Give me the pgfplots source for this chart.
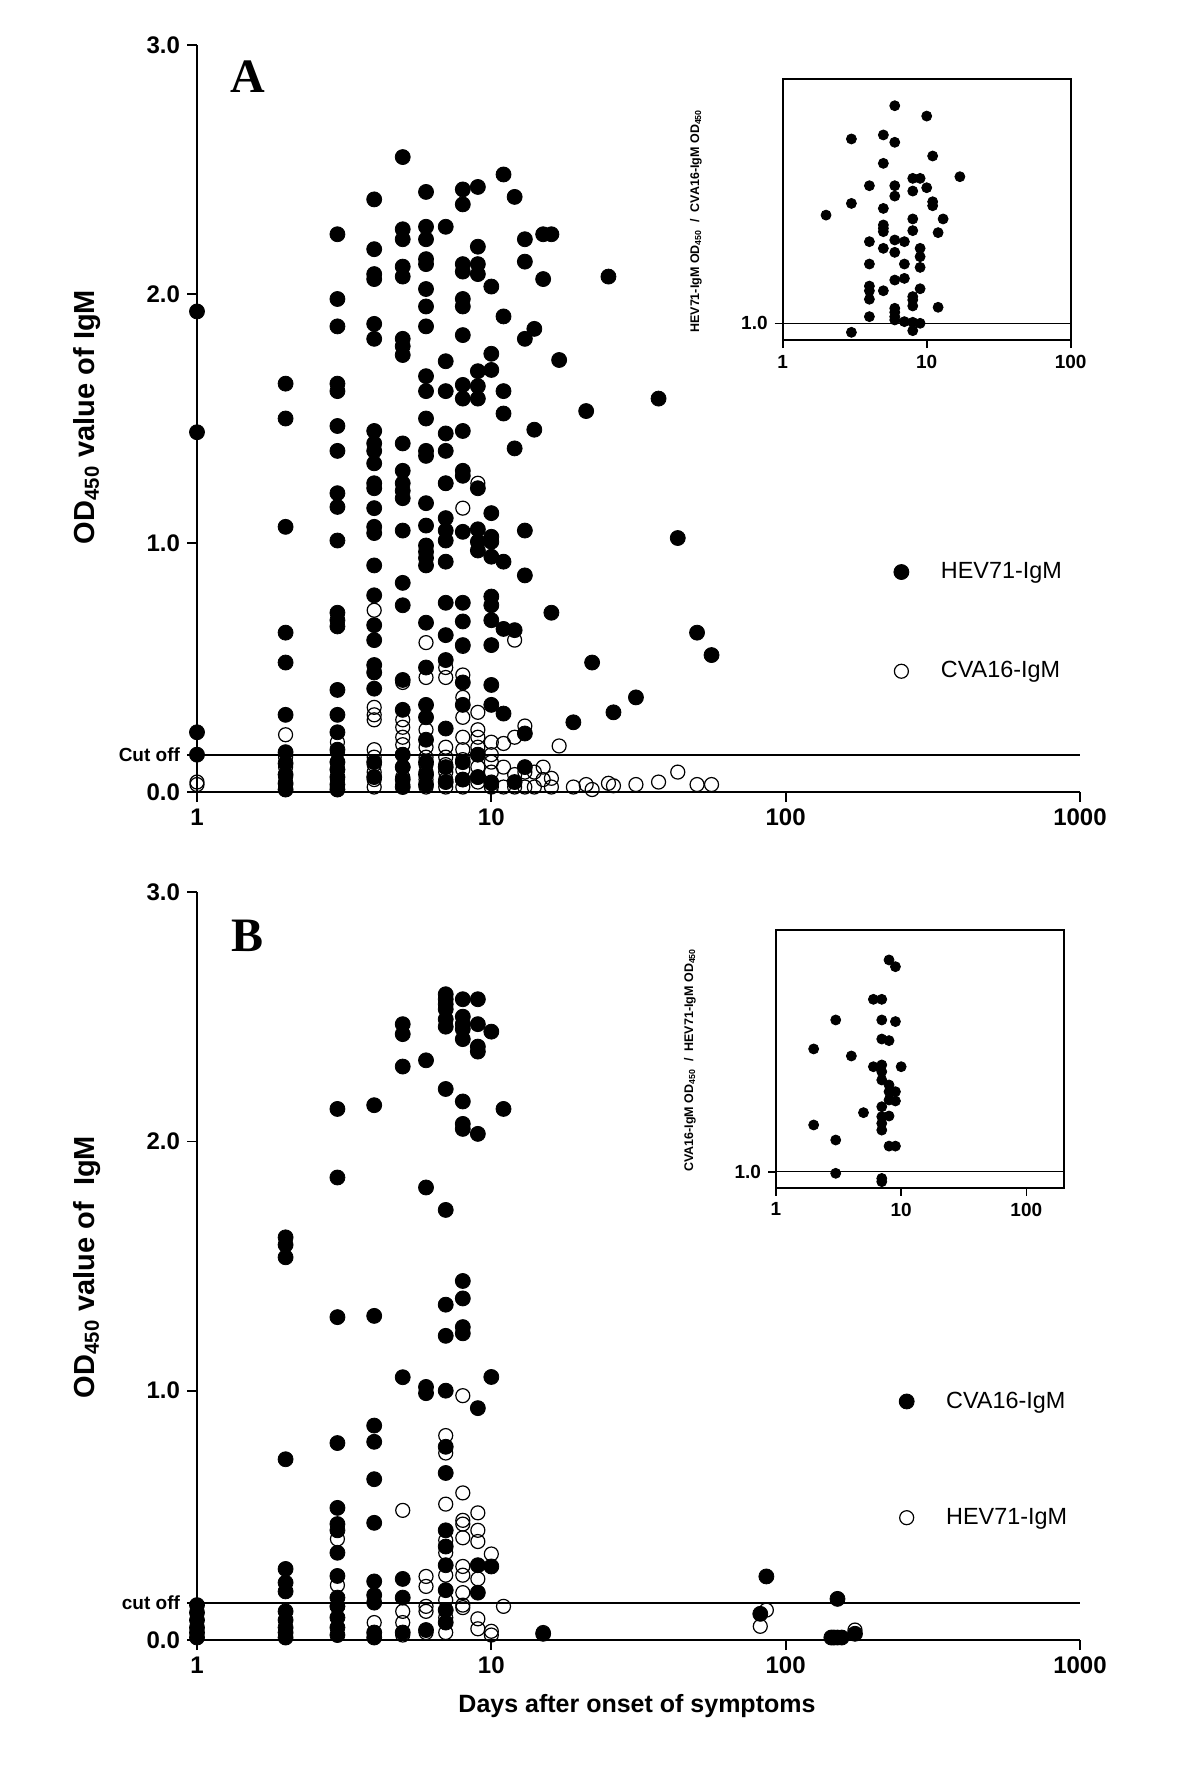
\documentclass[border=0pt]{standalone}
\usepackage{fontspec}
\setmainfont{Liberation Sans}
\newfontfamily\timesfont{Liberation Serif}
\usepackage{pgfplots}
\pgfplotsset{compat=1.18}
\pgfplotsset{
  fillm/.style={only marks, mark=*, mark size=3.75pt, black, mark options={fill=black}},
  openm/.style={only marks, mark=o, mark size=3.5pt, black, mark options={line width=0.6pt}},
  insm/.style={only marks, mark=*, mark size=2.5pt, black, mark options={fill=black}},
}
\begin{document}
\begin{tikzpicture}
\path (0,0) rectangle (600pt,-884.5pt);

% ---------------- Panel A ----------------
\begin{axis}[scale only axis, anchor=south west, at={(98.5pt,-396pt)},
    width=441.5pt, height=373.5pt,
    xmode=log, xmin=1, xmax=1000, ymin=0, ymax=3,
    axis x line*=bottom, axis y line*=left,
    axis line style={line width=0.85pt},
    tick style={line width=0.85pt, black},
    tick align=outside, major tick length=5pt,
    xminorticks=false, yminorticks=false,
    xtick={1,10,100,1000}, xticklabels={1,10,100,1000},
    ytick={0,1,2,3}, yticklabels={0.0,1.0,2.0,3.0},
    tick label style={font=\fontsize{12}{14}\selectfont\bfseries},
    extra y ticks={0.149}, extra y tick labels={Cut off},
    extra y tick style={tick label style={font=\fontsize{9.5}{11}\selectfont\bfseries}},
    clip=false,
    legend cell align=left,
    legend style={draw=none, fill=none, font=\fontsize{11.7}{13}\selectfont,
      at={(0.782,0.228)}, anchor=west, row sep=36pt,
      /tikz/every odd column/.append style={column sep=14pt}}]
\addplot[black, line width=0.8pt, forget plot] coordinates {(1,0.149) (1000,0.149)};
\addplot[fillm] coordinates {
(1,1.93)(1,1.445)(1,0.24)(1,0.15)
(2,1.64)(2,1.50)(2,1.065)(2,0.64)(2,0.52)(2,0.31)(2,0.16)(2,0.115)(2,0.07)(2,0.035)(2,0.01)
(3,2.24)(3,1.98)(3,1.87)(3,1.64)(3,1.61)(3,1.47)(3,1.37)(3,1.20)(3,1.145)(3,1.01)(3,0.72)(3,0.69)(3,0.665)(3,0.41)(3,0.31)(3,0.24)(3,0.17)(3,0.12)(3,0.09)(3,0.06)(3,0.03)(3,0.01)
(4,2.38)(4,2.18)(4,2.08)(4,2.06)(4,1.88)(4,1.82)(4,1.45)(4,1.40)(4,1.37)(4,1.32)(4,1.24)(4,1.22)(4,1.14)(4,1.065)(4,1.04)(4,0.91)(4,0.79)(4,0.67)(4,0.61)(4,0.51)(4,0.48)(4,0.415)(4,0.12)(4,0.06)
(5,2.55)(5,2.26)(5,2.22)(5,2.11)(5,2.07)(5,1.82)(5,1.79)(5,1.755)(5,1.40)(5,1.29)(5,1.24)(5,1.21)(5,1.18)(5,1.05)(5,0.84)(5,0.75)(5,0.45)(5,0.33)(5,0.15)(5,0.10)(5,0.05)(5,0.02)
(6,2.41)(6,2.27)(6,2.22)(6,2.14)(6,2.12)(6,2.02)(6,1.95)(6,1.87)(6,1.67)(6,1.61)(6,1.50)(6,1.37)(6,1.35)(6,1.16)(6,1.07)(6,0.99)(6,0.965)(6,0.94)(6,0.91)(6,0.68)(6,0.50)(6,0.35)(6,0.30)(6,0.21)(6,0.12)(6,0.07)(6,0.03)
(7,2.27)(7,1.73)(7,1.61)(7,1.44)(7,1.37)(7,1.24)(7,1.10)(7,1.05)(7,1.01)(7,0.925)(7,0.76)(7,0.63)(7,0.53)(7,0.255)(7,0.10)(7,0.04)
(8,2.42)(8,2.36)(8,2.12)(8,2.09)(8,1.98)(8,1.95)(8,1.835)(8,1.635)(8,1.58)(8,1.45)(8,1.29)(8,1.27)(8,1.045)(8,0.76)(8,0.685)(8,0.59)(8,0.44)(8,0.35)(8,0.12)(8,0.05)
(9,2.43)(9,2.19)(9,2.12)(9,2.08)(9,1.69)(9,1.63)(9,1.58)(9,1.22)(9,1.055)(9,1.005)(9,0.97)(9,0.15)(9,0.06)
(10,2.03)(10,1.76)(10,1.695)(10,1.12)(10,1.025)(10,1.005)(10,0.945)(10,0.785)(10,0.75)(10,0.69)(10,0.59)(10,0.43)(10,0.35)(10,0.035)
(11,2.48)(11,1.91)(11,1.61)(11,1.52)(11,0.925)(11,0.655)(11,0.315)
(12,2.39)(12,1.38)(12,0.65)(12,0.04)
(13,2.22)(13,2.13)(13,1.82)(13,1.05)(13,0.87)(13,0.235)(13,0.10)
(14,1.86)(14,1.455)
(15,2.24)(15,2.06)
(16,2.24)(16,0.72)
(17,1.735)
(19,0.28)(21,1.53)(22,0.52)(25,2.07)(26,0.32)(31,0.38)(37,1.58)(43,1.02)(50,0.64)(56,0.55)
};
\addlegendentry{HEV71-IgM}
\addplot[openm] coordinates {
(1,0.04)(1,0.03)
(2,0.23)(2,0.14)(2,0.10)(2,0.06)(2,0.03)(2,0.01)
(3,0.20)(3,0.16)(3,0.12)(3,0.09)(3,0.05)(3,0.02)(3,0.01)
(4,0.73)(4,0.34)(4,0.31)(4,0.29)(4,0.17)(4,0.14)(4,0.11)(4,0.08)(4,0.05)(4,0.02)
(5,0.44)(5,0.29)(5,0.26)(5,0.22)(5,0.19)(5,0.15)(5,0.10)(5,0.06)(5,0.03)
(6,0.60)(6,0.46)(6,0.25)(6,0.18)(6,0.14)(6,0.11)(6,0.08)(6,0.05)(6,0.02)
(7,1.24)(7,0.50)(7,0.46)(7,0.18)(7,0.14)(7,0.11)(7,0.08)(7,0.05)(7,0.02)
(8,1.14)(8,0.585)(8,0.47)(8,0.38)(8,0.30)(8,0.22)(8,0.17)(8,0.13)(8,0.09)(8,0.05)(8,0.02)
(9,1.24)(9,0.32)(9,0.25)(9,0.22)(9,0.18)(9,0.15)(9,0.10)(9,0.06)(9,0.04)
(10,0.20)(10,0.15)(10,0.12)(10,0.08)(10,0.04)(10,0.02)
(11,0.195)(11,0.10)(11,0.02)
(12,0.61)(12,0.22)(12,0.07)(12,0.02)
(13,0.265)(13,0.08)(13,0.02)
(14,0.08)(14,0.02)
(15,0.10)(15,0.05)
(16,0.055)(16,0.02)
(17,0.185)
(19,0.02)(21,0.03)(22,0.01)(25,0.035)(26,0.025)(31,0.03)(37,0.04)(43,0.08)(50,0.03)(56,0.03)
};
\addlegendentry{CVA16-IgM}
\end{axis}

% inset A
\begin{axis}[scale only axis, anchor=south west, at={(391.35pt,-170pt)},
    width=144pt, height=130.5pt,
    xmode=log, xmin=1, xmax=100, ymin=0.9, ymax=2.463,
    axis line style={line width=1pt},
    tick style={line width=0.8pt, black},
    tick align=outside, tick pos=left, major tick length=4pt,
    xminorticks=false, yminorticks=false,
    xtick={1,10,100}, xticklabels={1,10,100},
    ytick={1}, yticklabels={1.0},
    tick label style={font=\fontsize{9.5}{11}\selectfont\bfseries},
    clip=false]
\addplot[black, line width=0.4pt] coordinates {(1,1) (100,1)};
\addplot[insm] coordinates {
(2,1.648)
(3,2.104)(3,1.718)(3,0.946)
(4,1.824)(4,1.489)(4,1.355)(4,1.223)(4,1.195)(4,1.144)(4,1.040)
(5,2.128)(5,1.958)(5,1.688)(5,1.589)(5,1.569)(5,1.549)(5,1.449)(5,1.195)
(6,2.303)(6,2.084)(6,1.824)(6,1.762)(6,1.499)(6,1.425)(6,1.259)(6,1.090)(6,1.066)(6,1.040)(6,1.020)
(7,1.489)(7,1.355)(7,1.269)(7,1.010)
(8,1.868)(8,1.792)(8,1.625)(8,1.555)(8,1.160)(8,1.140)(8,1.104)(8,1.006)(8,0.956)
(9,1.868)(9,1.449)(9,1.399)(9,1.335)(9,1.207)(9,1.000)
(10,2.241)(10,1.812)
(11,2.002)(11,1.728)(11,1.704)
(12,1.543)(12,1.096)
(13,1.625)
(17,1.878)
};
\end{axis}

% ---------------- Panel B ----------------
\begin{axis}[scale only axis, anchor=south west, at={(98.5pt,-820pt)},
    width=441.5pt, height=374pt,
    xmode=log, xmin=1, xmax=1000, ymin=0, ymax=3,
    axis x line*=bottom, axis y line*=left,
    axis line style={line width=0.85pt},
    tick style={line width=0.85pt, black},
    tick align=outside, major tick length=5pt,
    xminorticks=false, yminorticks=false,
    xtick={1,10,100,1000}, xticklabels={1,10,100,1000},
    ytick={0,1,2,3}, yticklabels={0.0,1.0,2.0,3.0},
    tick label style={font=\fontsize{12}{14}\selectfont\bfseries},
    extra y ticks={0.149}, extra y tick labels={cut off},
    extra y tick style={tick label style={font=\fontsize{9.5}{11}\selectfont\bfseries}},
    clip=false,
    legend cell align=left,
    legend style={draw=none, fill=none, font=\fontsize{11.7}{13}\selectfont,
      at={(0.788,0.2413)}, anchor=west, row sep=44.5pt,
      /tikz/every odd column/.append style={column sep=14pt}}]
\addplot[black, line width=0.8pt, forget plot] coordinates {(1,0.149) (1000,0.149)};
\addplot[fillm] coordinates {
(1,0.14)(1,0.11)(1,0.08)(1,0.05)(1,0.03)(1,0.01)
(2,1.615)(2,1.585)(2,1.535)(2,0.725)(2,0.285)(2,0.23)(2,0.195)(2,0.115)(2,0.08)(2,0.05)(2,0.03)(2,0.01)
(3,2.13)(3,1.855)(3,1.295)(3,0.79)(3,0.53)(3,0.465)(3,0.44)(3,0.35)(3,0.257)(3,0.17)(3,0.135)(3,0.09)(3,0.05)(3,0.02)
(4,2.145)(4,1.30)(4,0.86)(4,0.795)(4,0.645)(4,0.47)(4,0.235)(4,0.18)(4,0.15)(4,0.03)(4,0.01)
(5,2.47)(5,2.43)(5,2.30)(5,1.054)(5,0.245)(5,0.17)(5,0.03)
(6,2.325)(6,1.815)(6,1.015)(6,0.99)(6,0.04)
(7,2.59)(7,2.57)(7,2.55)(7,2.53)(7,2.49)(7,2.46)(7,2.21)(7,1.725)(7,1.345)(7,1.22)(7,1.0)(7,0.775)(7,0.67)(7,0.44)(7,0.375)(7,0.30)(7,0.20)(7,0.12)(7,0.07)
(8,2.57)(8,2.50)(8,2.47)(8,2.45)(8,2.41)(8,2.16)(8,2.07)(8,2.05)(8,1.44)(8,1.37)(8,1.255)(8,1.23)
(9,2.57)(9,2.47)(9,2.38)(9,2.36)(9,2.03)(9,0.93)(9,0.30)(9,0.19)
(10,2.44)(10,1.055)(10,0.295)
(11,2.13)
(15,0.025)
(82,0.105)(86,0.255)
(143,0.01)(146,0.01)(150,0.01)(155,0.01)(150,0.165)(172,0.025)
};
\addlegendentry{CVA16-IgM}
\addplot[openm] coordinates {
(3,0.405)(3,0.22)(3,0.135)
(4,0.07)
(5,0.52)(5,0.115)(5,0.07)(5,0.02)
(6,0.255)(6,0.215)(6,0.135)(6,0.115)(6,0.03)
(7,0.82)(7,0.75)(7,0.545)(7,0.40)(7,0.35)(7,0.26)(7,0.16)(7,0.09)(7,0.03)
(8,0.98)(8,0.59)(8,0.48)(8,0.465)(8,0.41)(8,0.295)(8,0.26)(8,0.19)(8,0.14)(8,0.13)
(9,0.51)(9,0.44)(9,0.395)(9,0.245)(9,0.085)(9,0.045)
(10,0.345)(10,0.035)(10,0.02)
(11,0.135)
(15,0.03)
(82,0.055)(86,0.12)(172,0.04)
};
\addlegendentry{HEV71-IgM}
\end{axis}

% inset B
\begin{axis}[scale only axis, anchor=south west, at={(388pt,-593.85pt)},
    width=144pt, height=128.85pt,
    xmode=log, xmin=1, xmax=200, ymin=0.9, ymax=2.51,
    axis line style={line width=1pt},
    tick style={line width=0.8pt, black},
    tick align=outside, tick pos=left, major tick length=4pt,
    xminorticks=false, yminorticks=false,
    xtick={1,10,100}, xticklabels={1,10,100},
    ytick={1}, yticklabels={1.0},
    tick label style={font=\fontsize{9.5}{11}\selectfont\bfseries},
    clip=false]
\addplot[black, line width=0.4pt] coordinates {(1,1) (200,1)};
\addplot[insm] coordinates {
(2,1.767)(2,1.292)
(3,1.948)(3,1.198)(3,0.990)
(4,1.723)
(5,1.369)
(6,2.077)(6,1.656)
(7,2.077)(7,1.948)(7,1.829)(7,1.667)(7,1.625)(7,1.573)(7,1.406)(7,1.344)(7,1.302)(7,1.260)(7,0.958)(7,0.938)
(8,2.323)(8,1.819)(8,1.542)(8,1.500)(8,1.448)(8,1.348)(8,1.160)
(9,2.281)(9,1.938)(9,1.500)(9,1.442)(9,1.160)
(10,1.656)
};
\end{axis}

% labels
\node[font=\timesfont\fontsize{24}{26}\selectfont\bfseries] at (124pt,-38.5pt) {A};
\node[font=\timesfont\fontsize{24}{26}\selectfont\bfseries] at (124pt,-468pt) {B};
\node[rotate=90, font=\fontsize{14.5}{16}\selectfont\bfseries] at (43.5pt,-208.5pt) {OD\textsubscript{450} value of IgM};
\node[rotate=90, font=\fontsize{14.5}{16}\selectfont\bfseries] at (43.5pt,-633.5pt) {OD\textsubscript{450} value of \ IgM};
\node[font=\fontsize{12.5}{14}\selectfont\bfseries] at (318.5pt,-853pt) {Days after onset of symptoms};
\node[rotate=90, font=\fontsize{6.25}{7}\selectfont\bfseries] at (348pt,-110.5pt) {HEV71-IgM OD\textsubscript{450} \ / \ CVA16-IgM OD\textsubscript{450}};
\node[rotate=90, font=\fontsize{6.25}{7}\selectfont\bfseries] at (345pt,-530pt) {CVA16-IgM OD\textsubscript{450} \ / \ HEV71-IgM OD\textsubscript{450}};
\end{tikzpicture}
\end{document}
